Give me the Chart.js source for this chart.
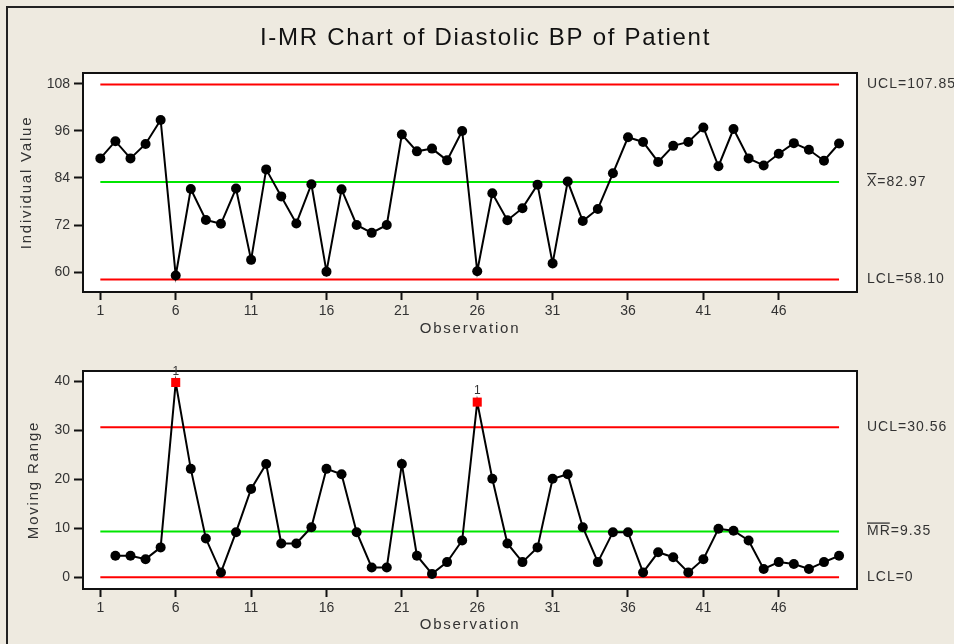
<!DOCTYPE html>
<html>
<head>
<meta charset="utf-8">
<title>I-MR Chart of Diastolic BP of Patient</title>
<script src="https://cdn.jsdelivr.net/npm/chart.js@4.4.0/dist/chart.umd.min.js"></script>
<style>
  html, body { margin: 0; padding: 0; background: #eeeae0; }
  #pagina { position: relative; width: 954px; height: 644px; overflow: hidden; }
  #marco { position: absolute; left: 6px; top: 6px; right: -4px; bottom: -4px; border-left: 2px solid #222; border-top: 2px solid #222; }
  canvas { position: absolute; left: 0; }
  #graficoI { top: 0; }
  #graficoMR { top: 345px; }
</style>
</head>
<body>
<div id="pagina">
  <div id="marco"></div>
  <canvas id="graficoI" width="954" height="345"></canvas>
  <canvas id="graficoMR" width="954" height="299"></canvas>
</div>
<script>
// Valores individuales (observaciones 1..50)
const individuales = [
  89.0, 93.4, 89.0, 92.7, 98.8, 59.1, 81.2, 73.3, 72.3, 81.3,
  63.1, 86.2, 79.3, 72.4, 82.4, 60.1, 81.1, 72.0, 70.0, 72.0,
  95.1, 90.8, 91.5, 88.5, 96.0, 60.2, 80.1, 73.2, 76.3, 82.3,
  62.2, 83.1, 73.0, 76.1, 85.2, 94.4, 93.2, 88.1, 92.2, 93.2,
  96.9, 87.0, 96.5, 89.0, 87.2, 90.2, 92.9, 91.2, 88.4, 92.8
];
// Rangos móviles (observaciones 2..50)
const rangosMoviles = [
  4.4, 4.4, 3.7, 6.1, 39.7, 22.1, 7.9, 1.0, 9.2, 18.0,
  23.1, 6.9, 6.9, 10.2, 22.1, 21.0, 9.2, 2.0, 2.0, 23.1,
  4.4, 0.7, 3.1, 7.5, 35.7, 20.1, 6.9, 3.1, 6.1, 20.1,
  21.0, 10.2, 3.1, 9.2, 9.2, 1.0, 5.1, 4.1, 1.0, 3.7,
  9.9, 9.5, 7.5, 1.7, 3.1, 2.7, 1.7, 3.1, 4.4
];
// Observaciones fuera de control en el gráfico MR
const fueraDeControl = [6, 26];

// Límites de control
const ucIndividual = 107.85;
const mediaIndividual = 82.97;
const lcIndividual = 58.10;
const ucRango = 30.56;
const mediaRango = 9.35;
const lcRango = 0;

// Marcas de los ejes
const ticksX = [1, 6, 11, 16, 21, 26, 31, 36, 41, 46];
const ticksIndividual = [60, 72, 84, 96, 108];
const ticksRango = [0, 10, 20, 30, 40];

const fuente = '"Liberation Sans", Arial, sans-serif';
Chart.defaults.font.family = fuente;
Chart.defaults.font.size = 14;
Chart.defaults.color = '#333';

// Fondo blanco, marco, textos de los límites, títulos de ejes y marcas "1"
const decoracion = {
  id: 'decoracion',
  beforeDraw(chart) {
    const { ctx, chartArea: a } = chart;
    ctx.save();
    ctx.fillStyle = '#ffffff';
    ctx.fillRect(a.left, a.top, a.width, a.height);
    ctx.restore();
  },
  afterDraw(chart, args, op) {
    const { ctx, chartArea: a, scales } = chart;
    ctx.save();
    ctx.strokeStyle = '#111';
    ctx.lineWidth = 2;
    ctx.strokeRect(a.left, a.top, a.width, a.height);

    ctx.fillStyle = '#333';
    ctx.textAlign = 'left';
    ctx.textBaseline = 'middle';
    ctx.font = '14px ' + fuente;
    ctx.letterSpacing = '1px';
    op.limites.forEach(l => {
      const y = scales.y.getPixelForValue(l.valor);
      ctx.fillText(l.texto, 867, y);
      if (l.barra) {
        const w = ctx.measureText(l.texto.slice(0, l.barra)).width - 1;
        ctx.fillRect(867, y - 9, w, 1.3);
      }
    });

    // títulos de los ejes
    ctx.font = '15px ' + fuente;
    ctx.letterSpacing = '1.8px';
    ctx.textAlign = 'center';
    ctx.fillText(op.tituloX.texto, (a.left + a.right) / 2, op.tituloX.y);
    ctx.save();
    ctx.translate(op.tituloY.x, (a.top + a.bottom) / 2);
    ctx.rotate(-Math.PI / 2);
    ctx.fillText(op.tituloY.texto, 0, 0);
    ctx.restore();

    // marcas de puntos fuera de control
    if (op.marcas) {
      const meta = chart.getDatasetMeta(0);
      const datos = chart.data.datasets[0].data;
      ctx.font = '12px ' + fuente;
      ctx.letterSpacing = '0px';
      op.marcas.forEach(obs => {
        const i = datos.findIndex(d => d.x === obs);
        const p = meta.data[i];
        ctx.fillText('1', p.x, p.y - 11);
      });
    }

    if (op.titulo) {
      ctx.font = '24px ' + fuente;
      ctx.letterSpacing = '1.7px';
      ctx.textAlign = 'left';
      ctx.textBaseline = 'alphabetic';
      ctx.fillStyle = '#111';
      ctx.fillText(op.titulo, 260, 45);
    }
    ctx.restore();
  }
};

function lineaLimite(valor, color) {
  return {
    data: [{ x: 1, y: valor }, { x: individuales.length, y: valor }],
    borderColor: color,
    borderWidth: 2,
    pointRadius: 0,
    order: 1
  };
}

function escalas(yMin, yMax, ticksY, altoX) {
  return {
    x: {
      type: 'linear',
      min: -0.15,
      max: 51.19,
      afterBuildTicks: s => { s.ticks = ticksX.map(v => ({ value: v })); },
      afterFit: s => { s.height = altoX; },
      ticks: { autoSkip: false, maxRotation: 0, padding: 3, color: '#333' },
      grid: { drawOnChartArea: false, tickLength: 8, tickColor: '#111', tickWidth: 2 },
      border: { display: false }
    },
    y: {
      type: 'linear',
      min: yMin,
      max: yMax,
      afterBuildTicks: s => { s.ticks = ticksY.map(v => ({ value: v })); },
      afterFit: s => { s.width = 83; },
      ticks: { padding: 4, color: '#333' },
      grid: { drawOnChartArea: false, tickLength: 9, tickColor: '#111', tickWidth: 2 },
      border: { display: false }
    }
  };
}

// Gráfico de valores individuales
new Chart(document.getElementById('graficoI'), {
  type: 'line',
  data: {
    datasets: [
      {
        data: individuales.map((v, i) => ({ x: i + 1, y: v })),
        borderColor: '#000',
        borderWidth: 2,
        pointRadius: 5,
        pointBackgroundColor: '#000',
        pointBorderWidth: 0,
        order: 0
      },
      lineaLimite(ucIndividual, '#ff0000'),
      lineaLimite(mediaIndividual, '#00e600'),
      lineaLimite(lcIndividual, '#ff0000')
    ]
  },
  options: {
    responsive: false,
    animation: false,
    layout: { padding: { left: 0, top: 73, right: 97, bottom: 0 } },
    scales: escalas(54.9, 110.8, ticksIndividual, 53),
    plugins: {
      legend: { display: false },
      tooltip: { enabled: false },
      decoracion: {
        titulo: 'I-MR Chart of Diastolic BP of Patient',
        tituloX: { texto: 'Observation', y: 329 },
        tituloY: { texto: 'Individual Value', x: 27 },
        limites: [
          { valor: ucIndividual, texto: 'UCL=' + ucIndividual.toFixed(2) },
          { valor: mediaIndividual, texto: 'X=' + mediaIndividual.toFixed(2), barra: 1 },
          { valor: lcIndividual, texto: 'LCL=' + lcIndividual.toFixed(2) }
        ]
      }
    }
  },
  plugins: [decoracion]
});

// Gráfico de rangos móviles
const esFuera = ctx => fueraDeControl.includes(ctx.dataIndex + 2);
new Chart(document.getElementById('graficoMR'), {
  type: 'line',
  data: {
    datasets: [
      {
        data: rangosMoviles.map((v, i) => ({ x: i + 2, y: v })),
        borderColor: '#000',
        borderWidth: 2,
        pointStyle: ctx => esFuera(ctx) ? 'rect' : 'circle',
        pointRadius: ctx => esFuera(ctx) ? 6.4 : 5,
        pointBackgroundColor: ctx => esFuera(ctx) ? '#ff0000' : '#000',
        pointBorderWidth: 0,
        order: 0
      },
      lineaLimite(ucRango, '#ff0000'),
      lineaLimite(mediaRango, '#00e600'),
      lineaLimite(lcRango, '#ff0000')
    ]
  },
  options: {
    responsive: false,
    animation: false,
    layout: { padding: { left: 0, top: 26, right: 97, bottom: 0 } },
    scales: escalas(-2.38, 42.04, ticksRango, 55),
    plugins: {
      legend: { display: false },
      tooltip: { enabled: false },
      decoracion: {
        tituloX: { texto: 'Observation', y: 280 },
        tituloY: { texto: 'Moving Range', x: 34 },
        marcas: fueraDeControl,
        limites: [
          { valor: ucRango, texto: 'UCL=' + ucRango.toFixed(2) },
          { valor: mediaRango, texto: 'MR=' + mediaRango.toFixed(2), barra: 2 },
          { valor: lcRango, texto: 'LCL=' + lcRango }
        ]
      }
    }
  },
  plugins: [decoracion]
});
</script>
</body>
</html>
